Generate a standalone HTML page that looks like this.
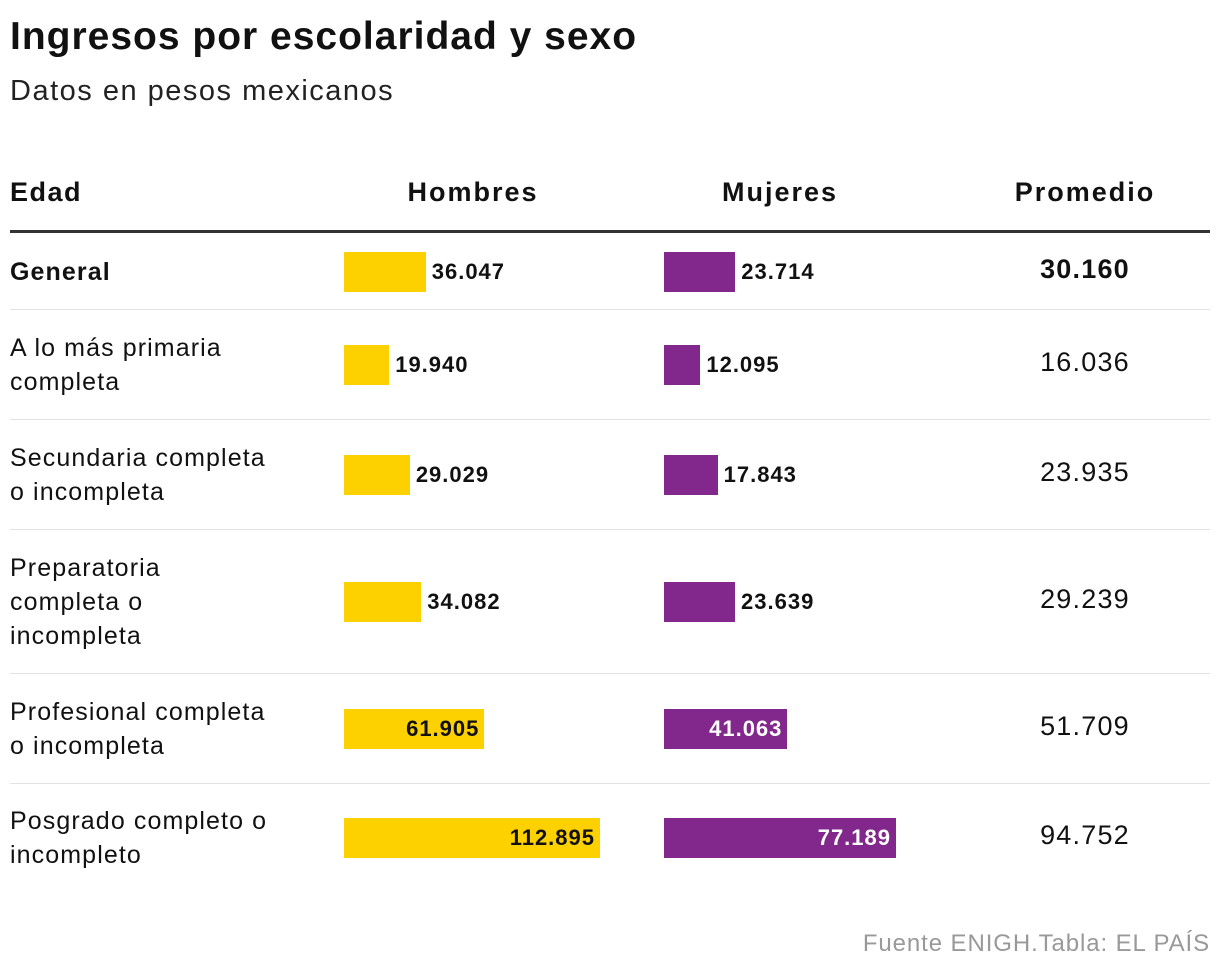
<!DOCTYPE html>
<html><head><meta charset="utf-8"><style>
body{margin:0;background:#fff;width:1220px;height:976px;position:relative;font-family:"Liberation Sans",sans-serif;color:#111;overflow:hidden}
.t{position:absolute;white-space:nowrap}
.row{position:absolute;left:10px;width:1200px;border-bottom:1px solid #e2e2e2}
.lab{position:absolute;left:0;font-size:25px;line-height:34px;letter-spacing:1.1px;white-space:nowrap}
.bar{position:absolute;height:40px}
.val{position:absolute;font-size:22px;font-weight:bold;line-height:40px;white-space:nowrap;letter-spacing:1px}
.avg{position:absolute;left:975px;width:200px;text-align:center;font-size:27px;letter-spacing:1.2px}
</style></head><body>
<div class="t" style="left:10px;top:15px;font-size:39px;font-weight:bold;letter-spacing:1px">Ingresos por escolaridad y sexo</div>
<div class="t" style="left:10px;top:75px;font-size:29px;letter-spacing:1.5px;color:#222">Datos en pesos mexicanos</div>
<div class="t" style="left:10px;top:177px;font-size:27px;font-weight:bold;letter-spacing:1.5px">Edad</div>
<div class="t" style="left:373px;width:200px;text-align:center;top:177px;font-size:27px;font-weight:bold;letter-spacing:2px">Hombres</div>
<div class="t" style="left:680px;width:200px;text-align:center;top:177px;font-size:27px;font-weight:bold;letter-spacing:2px">Mujeres</div>
<div class="t" style="left:985px;width:200px;text-align:center;top:177px;font-size:27px;font-weight:bold;letter-spacing:2px">Promedio</div>
<div style="position:absolute;left:10px;top:230px;width:1200px;height:3px;background:#333"></div>
<div id="rows"></div>
<div class="t" style="right:10px;top:930px;font-size:24px;letter-spacing:0.9px;color:#999">Fuente ENIGH.Tabla: EL PAÍS</div>
<script>
const categories=["General","A lo más primaria<br>completa","Secundaria completa<br>o incompleta","Preparatoria<br>completa o<br>incompleta","Profesional completa<br>o incompleta","Posgrado completo o<br>incompleto"];
const hombres=[36047,19940,29029,34082,61905,112895];
const mujeres=[23714,12095,17843,23639,41063,77189];
const promedio=[30160,16036,23935,29239,51709,94752];
const rowTops=[234,310,420,530,674,784];
const rowHeights=[75,109,109,143,109,100];
const xH=v=>v*256/112895, xM=v=>v*232/77189;
const fmt=v=>v.toLocaleString('de-DE');
const root=document.getElementById('rows');
categories.forEach((c,i)=>{
  const r=document.createElement('div');r.className='row';
  
  
  r.style.top=rowTops[i]+'px';r.style.height=rowHeights[i]+'px';
  if(i==5)r.style.borderBottom='none';
  const cy=(i==0?38:rowHeights[i]/2+(i==5?4:0));
  const lines=c.split('<br>').length;
  const l=document.createElement('div');l.className='lab';l.innerHTML=c;
  
  
  l.style.top=(cy-lines*17)+'px';
  if(i==0){l.style.fontWeight='bold';}
  r.appendChild(l);
  [[hombres[i],xH,334,'#fdd000','#111'],[mujeres[i],xM,654,'#82288c','#fff']].forEach(([v,f,x0,col,inc],k)=>{
    const w=f(v);
    const b=document.createElement('div');b.className='bar';
    
    
    b.style.left=x0+'px';b.style.width=w+'px';b.style.top=(cy-20)+'px';b.style.background=col;
    r.appendChild(b);
    const t=document.createElement('div');t.className='val';t.textContent=fmt(v);
    
    
    t.style.top=(cy-20)+'px';
    if(w>110){t.style.left=(x0+w-200-5)+'px';t.style.width='200px';t.style.textAlign='right';t.style.color=inc;}
    else{t.style.left=(x0+w+6)+'px';}
    r.appendChild(t);
  });
  const a=document.createElement('div');a.className='avg';a.textContent=fmt(promedio[i]);
  
  
  a.style.top=(cy-18)+'px';if(i==0)a.style.fontWeight='bold';
  r.appendChild(a);
  root.appendChild(r);
});
</script>
</body></html>
